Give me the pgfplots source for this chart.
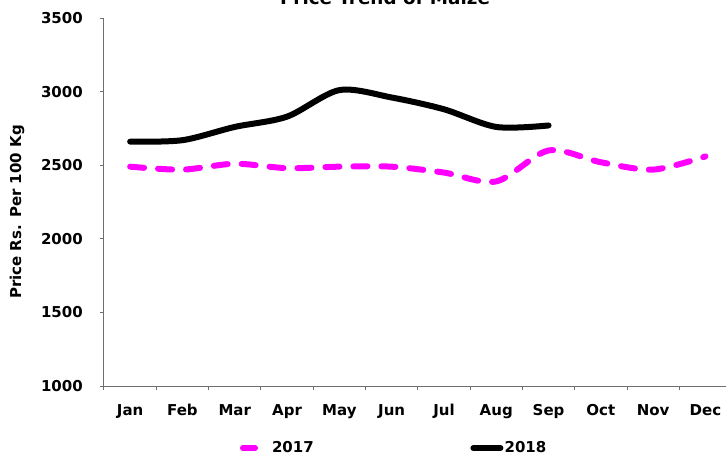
\documentclass[border=0pt]{standalone}
\usepackage{fontspec}
\setmainfont{DejaVu Sans}
\usepackage{pgfplots}
\pgfplotsset{compat=1.18}
\definecolor{mag}{RGB}{255,0,255}
\definecolor{axgray}{RGB}{110,110,110}

\begin{document}
\begin{tikzpicture}
% crop the picture like the reference (title cut off at top, axis cut at right)
\clip (-62.4pt,-42.6pt) rectangle (373.2pt,231.6pt);
\begin{axis}[
    scale only axis,
    width=376.56pt,
    height=220.8pt,
    anchor=south west,
    at={(0pt,0pt)},
    axis lines*=left,
    axis line style={axgray, line width=0.6pt},
    xmin=-0.5, xmax=11.5,
    ymin=1000, ymax=3500,
    xtick={0,...,11},
    xticklabels={Jan,Feb,Mar,Apr,May,Jun,Jul,Aug,Sep,Oct,Nov,Dec},
    minor xtick={-0.5,0.5,...,11.5},
    every major x tick/.append style={draw=none},
    ytick={1000,1500,...,3500},
    tick align=outside,
    major tick length=2.6pt,
    minor tick length=2.6pt,
    tick style={axgray, line width=0.6pt},
    font=\fontsize{9}{10}\selectfont\bfseries,
    /pgf/number format/assume math mode=true,
    /pgf/number format/1000 sep={},
    yticklabel style={xshift=-6.6pt},
    xticklabel style={yshift=-5pt},
    ylabel={Price Rs. Per 100 Kg},
    every axis y label/.style={at={(rel axis cs:0,0.5)}, xshift=-52.2pt, yshift=-6pt,
        rotate=90, anchor=center},
    legend columns=2,
    legend style={at={(0.2167,-0.1685)}, anchor=west, draw=none, fill=none,
        inner sep=0pt, outer sep=0pt,
        nodes={inner sep=0pt, anchor=west},
        /tikz/every even column/.append style={column sep=94pt}},
]
\addplot[mag, line width=3.6pt, dash pattern=on 8.4pt off 8.4pt, line cap=round, smooth,
    legend image code/.code={
        \path[draw=none, fill=none] (0pt,-2pt) rectangle (19.2pt,2pt);
        \draw[mag, solid, line width=3.6pt, line cap=round] (1.8pt,0pt) -- (9pt,0pt);}]
coordinates {
    (0,2490) (1,2470) (2,2510) (3,2480) (4,2490) (5,2490)
    (6,2450) (7,2390) (8,2600) (9,2520) (10,2470) (11,2560)
};
\addlegendentry{2017}
\addplot[black, line width=3.6pt, line cap=round, smooth,
    legend image code/.code={
        \path[draw=none, fill=none] (0pt,-2pt) rectangle (20.5pt,2pt);
        \draw[black, solid, line width=3.6pt, line cap=round] (1.8pt,0pt) -- (18pt,0pt);}]
coordinates {
    (0,2660) (1,2670) (2,2760) (3,2830) (4,3010) (5,2960)
    (6,2880) (7,2760) (8,2770)
};
\addlegendentry{2018}
\end{axis}
\node[anchor=base, font=\fontsize{11}{12}\selectfont\bfseries] at (168.6pt,229.2pt)
    {Price Trend of Maize};
\end{tikzpicture}
\end{document}
